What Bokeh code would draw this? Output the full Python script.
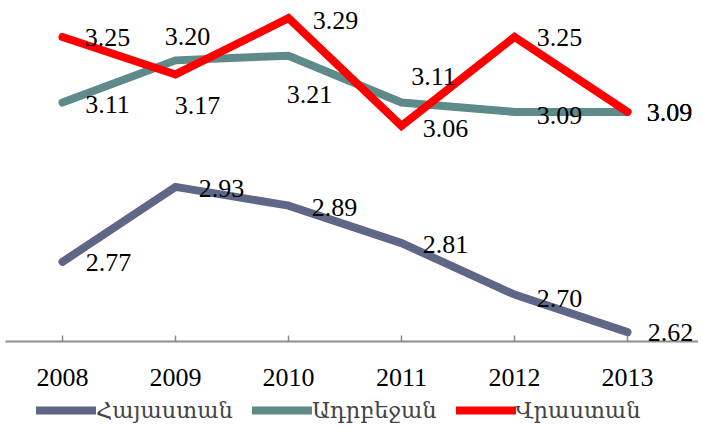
from bokeh.plotting import figure
from bokeh.layouts import column
from bokeh.models import Range1d, FixedTicker, Legend, LegendItem, ColumnDataSource, LabelSet
from bokeh.embed import file_html
from bokeh.resources import INLINE

# ---- data ----
years = [2008, 2009, 2010, 2011, 2012, 2013]
armenia = [2.77, 2.93, 2.89, 2.81, 2.70, 2.62]
azerbaijan = [3.11, 3.20, 3.21, 3.11, 3.09, 3.09]
georgia = [3.25, 3.17, 3.29, 3.06, 3.25, 3.09]
series_names = ["Հայաստան", "Ադրբեջան", "Վրաստան"]

# ---- styles ----
colors = ["#5F6787", "#5E8A89", "#FF0000"]
# label offsets in screen pixels (dx right, dy down) for each point
label_dx = [
    [46, 46, 46, 44, 45, 43],
    [45, 12, 21, 32, 45, 42],
    [45, 22, 47, 44, 45, 42],
]
label_dy = [
    [1, 2, 2, 1, 4, 0],
    [2, -24, 39, -26, 4, 1],
    [1, 31, 2, 3, 1, 1],
]
FONT = "Liberation Serif"

p = figure(
    width=698, height=395,
    x_range=Range1d(2007.4956, 2013.6283), y_range=Range1d(2.6, 3.3171),
    output_backend="svg", toolbar_location=None, y_axis_location=None,
    min_border_left=5, min_border_right=0, min_border_top=5, min_border_bottom=54,
    outline_line_color=None, background_fill_color="white",
)
p.grid.visible = False

xa = p.xaxis[0]
xa.ticker = FixedTicker(ticks=years)
xa.major_label_overrides = {y: str(y) for y in years}
xa.axis_line_color = "#8C8C8C"
xa.axis_line_width = 2
xa.major_tick_line_color = "#8C8C8C"
xa.major_tick_line_width = 1.5
xa.major_tick_in = 6
xa.major_tick_out = 0
xa.minor_tick_line_color = None
xa.major_label_text_font = FONT
xa.major_label_text_font_size = "26px"
xa.major_label_text_color = "black"
xa.major_label_standoff = 27

all_series = [armenia, azerbaijan, georgia]
for vals, col in zip(all_series, colors):
    p.line(years, vals, line_color=col, line_width=8,
           line_cap="round", line_join="miter")

for vals, dx, dy in zip(all_series, label_dx, label_dy):
    src = ColumnDataSource(dict(x=years, y=vals, t=[f"{v:.2f}" for v in vals],
                                dx=dx, dy=[-d for d in dy]))
    labels = LabelSet(x="x", y="y", text="t", x_offset="dx", y_offset="dy", source=src,
                      text_align="center", text_baseline="middle",
                      text_font_size="26px", text_color="black", text_font=FONT)
    p.add_layout(labels)

# ---- legend in its own strip ----
lg = figure(
    width=698, height=32, x_range=Range1d(0, 1), y_range=Range1d(0, 1),
    output_backend="svg", toolbar_location=None,
    x_axis_location=None, y_axis_location=None,
    min_border_left=0, min_border_right=0, min_border_top=0, min_border_bottom=0,
    outline_line_color=None, background_fill_color="white",
)
lg.grid.visible = False
nan = float("nan")
leg_renderers = [lg.line(x=[nan], y=[nan], line_color=c, line_width=8, line_cap="round")
                 for c in colors]
legend = Legend(
    items=[LegendItem(label=n, renderers=[r]) for n, r in zip(series_names, leg_renderers)],
    orientation="horizontal", location=(31, 4),
    glyph_width=60, glyph_height=20, label_standoff=0, spacing=19,
    padding=0, margin=0, border_line_color=None, background_fill_alpha=0,
    label_text_font="DejaVu Serif", label_text_font_size="22.5px", label_height=24,
)
lg.add_layout(legend, "center")

layout = column(p, lg, spacing=0)
open("out.html", "w").write(file_html(layout, INLINE))
